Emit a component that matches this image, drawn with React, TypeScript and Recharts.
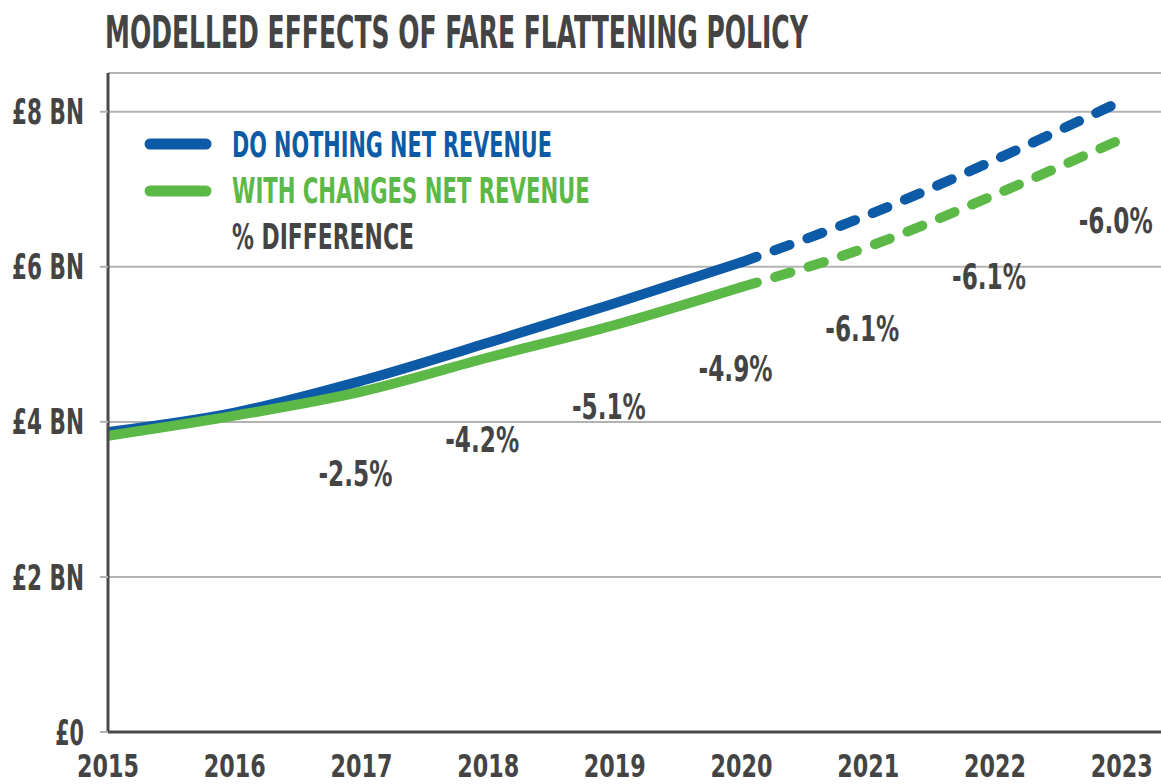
import React, { useLayoutEffect, useRef, useState } from "react";
import { LineChart, Line, XAxis, YAxis, CartesianGrid, LabelList } from "recharts";

const years = [2015, 2016, 2017, 2018, 2019, 2020, 2021, 2022, 2023];
const doNothing = [3.87, 4.12, 4.53, 5.02, 5.53, 6.06, 6.67, 7.38, 8.14];
const withChanges = [3.82, 4.08, 4.39, 4.83, 5.25, 5.74, 6.26, 6.93, 7.65];
const pctDiff = [null, null, "-2.5%", "-4.2%", "-5.1%", "-4.9%", "-6.1%", "-6.1%", "-6.0%"];
const lastActualYear = 2020;
const yTicks = [0, 2, 4, 6, 8];
const yTickLabels = ["£0", "£2 BN", "£4 BN", "£6 BN", "£8 BN"];
const seriesNames = ["DO NOTHING NET REVENUE", "WITH CHANGES NET REVENUE", "% DIFFERENCE"];
const title = "MODELLED EFFECTS OF FARE FLATTENING POLICY";

const BLUE = "#0d5aa6";
const GREEN = "#5cb947";
const TEXT = "#444444";
const FONT = "'Liberation Sans Narrow', 'DejaVu Sans Condensed', 'Roboto', sans-serif";

const data = years.map((yr, i) => ({
  year: yr,
  dnSolid: yr <= lastActualYear ? doNothing[i] : null,
  dnDash: yr >= lastActualYear ? doNothing[i] : null,
  wcSolid: yr <= lastActualYear ? withChanges[i] : null,
  wcDash: yr >= lastActualYear ? withChanges[i] : null,
  wc: withChanges[i],
  pct: pctDiff[i],
}));

// Text horizontally scaled so that it spans a given width.
const FitText = (props: any) => {
  const { x, y, width, anchor = "start", fill = TEXT, fontSize, dy, children } = props;
  const ref = useRef<SVGTextElement | null>(null);
  const [sx, setSx] = useState(1);
  useLayoutEffect(() => {
    if (ref.current) {
      const len = ref.current.getComputedTextLength();
      if (len > 0) setSx(width / len);
    }
  }, [width, children, fontSize]);
  return (
    <g transform={`translate(${x},${y}) scale(${sx},1)`}>
      <text ref={ref} x={0} y={0} dy={dy} textAnchor={anchor} fill={fill} fontFamily={FONT} fontWeight={700}
        fontSize={fontSize}>
        {children}
      </text>
    </g>
  );
};

const YTick = (props: any) => {
  const { x, y, payload } = props;
  const idx = yTicks.indexOf(payload.value);
  const label = yTickLabels[idx] ?? "";
  return <FitText x={x} y={y} dy="0.36em" anchor="end" fontSize={35} width={label.length * 14.4}>{label}</FitText>;
};

const XTick = (props: any) => {
  const { x, y, payload } = props;
  return <FitText x={x} y={y} dy="0.71em" anchor="middle" fontSize={32} width={62}>{String(payload.value)}</FitText>;
};

const PctLabel = (props: any) => {
  const { x, y, value } = props;
  if (!value) return null;
  return <FitText x={x - 6} y={y + 94} anchor="middle" fontSize={35} width={74}>{value}</FitText>;
};

export default function App() {
  return (
    <div style={{ position: "absolute", left: 0, top: 0, width: 1161, height: 784, background: "#fff", overflow: "hidden" }}>
      <LineChart width={1161} height={784} data={data} margin={{ top: 73, right: 0, bottom: 0, left: 0 }}>
        <CartesianGrid vertical={false} stroke="#b3b3b3" strokeWidth={2} />
        <XAxis
          dataKey="year"
          type="number"
          domain={[2015, 2023.31]}
          ticks={years}
          height={52}
          tickLine={false}
          tickMargin={16}
          axisLine={{ stroke: "#4a4a4a", strokeWidth: 3 }}
          tick={<XTick />}
          allowDataOverflow
        />
        <YAxis
          width={108}
          domain={[0, 8.5]}
          ticks={yTicks}
          tickSize={8}
          tickMargin={16}
          tickLine={{ stroke: "#b3b3b3", strokeWidth: 2 }}
          axisLine={{ stroke: "#4a4a4a", strokeWidth: 3 }}
          tick={<YTick />}
          allowDataOverflow
        />
        <Line dataKey="dnSolid" type="monotone" stroke={BLUE} strokeWidth={10} strokeLinecap="round" dot={false}
          isAnimationActive={false} connectNulls={false} />
        <Line dataKey="dnDash" type="monotone" stroke={BLUE} strokeWidth={10} strokeLinecap="round" strokeDasharray="16 19"
          dot={false} isAnimationActive={false} connectNulls={false} />
        <Line dataKey="wcSolid" type="monotone" stroke={GREEN} strokeWidth={10} strokeLinecap="round" dot={false}
          isAnimationActive={false} connectNulls={false} />
        <Line dataKey="wcDash" type="monotone" stroke={GREEN} strokeWidth={10} strokeLinecap="round" strokeDasharray="16 19"
          dot={false} isAnimationActive={false} connectNulls={false} />
        <Line dataKey="wc" stroke="none" dot={false} activeDot={false} isAnimationActive={false}>
          <LabelList dataKey="pct" content={<PctLabel />} />
        </Line>
      </LineChart>
      <svg width={1161} height={784} style={{ position: "absolute", left: 0, top: 0, pointerEvents: "none" }}>
        <FitText x={105} y={48} fontSize={45} width={703}>{title}</FitText>
        <line x1={150} y1={144} x2={206} y2={144} stroke={BLUE} strokeWidth={11} strokeLinecap="round" />
        <line x1={150} y1={191} x2={206} y2={191} stroke={GREEN} strokeWidth={11} strokeLinecap="round" />
        <FitText x={232} y={157} fontSize={36} width={320} fill={BLUE}>{seriesNames[0]}</FitText>
        <FitText x={232} y={203} fontSize={36} width={358} fill={GREEN}>{seriesNames[1]}</FitText>
        <FitText x={232} y={249} fontSize={36} width={182}>{seriesNames[2]}</FitText>
      </svg>
    </div>
  );
}
